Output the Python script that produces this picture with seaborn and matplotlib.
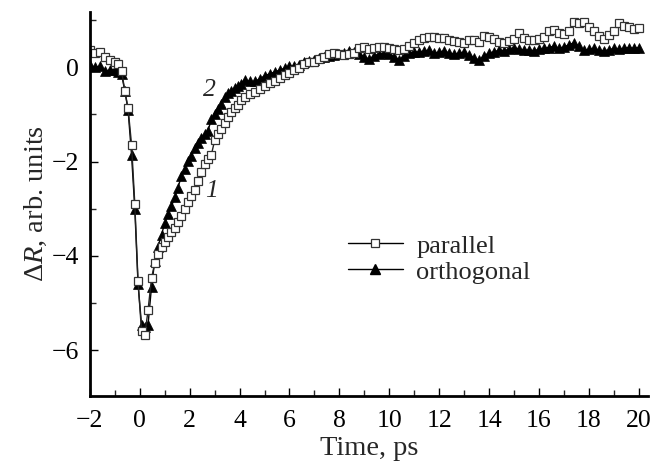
import matplotlib
matplotlib.use("Agg")
import matplotlib.pyplot as plt
import seaborn as sns
import pandas as pd
from matplotlib.ticker import MultipleLocator
from matplotlib.lines import Line2D

# ---- data ----
time_ps = [-2.0, -1.8, -1.6, -1.4, -1.2, -1.0, -0.87, -0.73, -0.6, -0.47,
           -0.33, -0.2, -0.07, 0.07, 0.2, 0.33, 0.47, 0.6, 0.73, 0.87,
           1.0, 1.13, 1.27, 1.4, 1.53, 1.67, 1.8, 1.93, 2.07, 2.2,
           2.33, 2.47, 2.6, 2.73, 2.87, 3.0, 3.13, 3.27, 3.4, 3.53,
           3.67, 3.8, 3.93, 4.07, 4.2, 4.4, 4.6, 4.8, 5.0, 5.2,
           5.4, 5.6, 5.8, 6.0, 6.2, 6.4, 6.6, 6.8, 7.0, 7.2,
           7.4, 7.6, 7.8, 8.0, 8.2, 8.4, 8.6, 8.8, 9.0, 9.2,
           9.4, 9.6, 9.8, 10.0, 10.2, 10.4, 10.6, 10.8, 11.0, 11.2,
           11.4, 11.6, 11.8, 12.0, 12.2, 12.4, 12.6, 12.8, 13.0, 13.2,
           13.4, 13.6, 13.8, 14.0, 14.2, 14.4, 14.6, 14.8, 15.0, 15.2,
           15.4, 15.6, 15.8, 16.0, 16.2, 16.4, 16.6, 16.8, 17.0, 17.2,
           17.4, 17.6, 17.8, 18.0, 18.2, 18.4, 18.6, 18.8, 19.0, 19.2,
           19.4, 19.6, 19.8, 20.0]

parallel = [0.36, 0.30, 0.32, 0.22, 0.16, 0.12, 0.06, -0.08, -0.50, -0.87,
            -1.64, -2.90, -4.54, -5.60, -5.68, -5.15, -4.47, -4.15, -3.95, -3.80,
            -3.70, -3.60, -3.50, -3.40, -3.28, -3.15, -3.00, -2.85, -2.72, -2.60,
            -2.40, -2.22, -2.05, -1.95, -1.85, -1.55, -1.42, -1.30, -1.17, -1.05,
            -0.95, -0.87, -0.80, -0.70, -0.63, -0.57, -0.52, -0.47, -0.40, -0.34,
            -0.29, -0.23, -0.17, -0.12, -0.06, -0.02, 0.08, 0.12, 0.12, 0.18,
            0.22, 0.28, 0.31, 0.29, 0.27, 0.28, 0.30, 0.40, 0.43, 0.38,
            0.40, 0.43, 0.44, 0.42, 0.38, 0.36, 0.38, 0.45, 0.52, 0.57,
            0.62, 0.65, 0.65, 0.63, 0.62, 0.58, 0.56, 0.53, 0.52, 0.57,
            0.58, 0.53, 0.66, 0.65, 0.60, 0.54, 0.52, 0.56, 0.60, 0.73,
            0.62, 0.58, 0.58, 0.60, 0.65, 0.76, 0.80, 0.73, 0.70, 0.78,
            0.96, 0.93, 0.97, 0.85, 0.78, 0.66, 0.60, 0.68, 0.78, 0.94,
            0.88, 0.86, 0.82, 0.84]

orthogonal = [0.05, 0.00, 0.02, -0.08, -0.06, -0.05, -0.10, -0.15, -0.50, -0.90,
              -1.86, -3.00, -4.60, -5.46, -5.50, -5.46, -4.65, -4.10, -3.80, -3.55,
              -3.30, -3.10, -2.95, -2.75, -2.55, -2.30, -2.15, -1.98, -1.88, -1.72,
              -1.60, -1.50, -1.42, -1.35, -1.10, -1.00, -0.88, -0.78, -0.62, -0.55,
              -0.50, -0.44, -0.40, -0.35, -0.26, -0.30, -0.30, -0.25, -0.18, -0.14,
              -0.10, -0.06, -0.02, 0.02, 0.03, 0.05, 0.12, 0.14, 0.16, 0.20,
              0.22, 0.25, 0.27, 0.28, 0.30, 0.34, 0.32, 0.28, 0.22, 0.17,
              0.25, 0.28, 0.30, 0.28, 0.22, 0.16, 0.24, 0.30, 0.33, 0.32,
              0.35, 0.36, 0.30, 0.32, 0.35, 0.30, 0.28, 0.30, 0.32, 0.26,
              0.20, 0.15, 0.25, 0.30, 0.33, 0.36, 0.35, 0.38, 0.42, 0.38,
              0.36, 0.37, 0.35, 0.38, 0.40, 0.42, 0.45, 0.40, 0.43, 0.48,
              0.52, 0.45, 0.36, 0.38, 0.40, 0.36, 0.35, 0.37, 0.40, 0.38,
              0.40, 0.42, 0.40, 0.42]

series_labels = ["parallel", "orthogonal"]
x_ticks = [-2, 0, 2, 4, 6, 8, 10, 12, 14, 16, 18, 20]
y_ticks = [0, -2, -4, -6]

df = pd.DataFrame({"time": time_ps, "parallel": parallel, "orthogonal": orthogonal})

# ---- style ----
sns.set_style("ticks")
plt.rcParams["font.family"] = ["Liberation Serif", "DejaVu Serif"]
plt.rcParams["mathtext.fontset"] = "custom"
plt.rcParams["mathtext.rm"] = "Liberation Serif"
plt.rcParams["mathtext.it"] = "Liberation Serif:italic"

fig = plt.figure(figsize=(6.61, 4.66), dpi=100)
ax = fig.add_axes([0.136, 0.150, 0.844, 0.825])

sns.lineplot(data=df, x="time", y="orthogonal", ax=ax, color="black",
             linewidth=1.0, marker="^", markersize=7, markerfacecolor="black",
             markeredgecolor="black", markeredgewidth=0.5,
             sort=False, estimator=None)
sns.lineplot(data=df, x="time", y="parallel", ax=ax, color="#222222",
             linewidth=1.0, marker="s", markersize=6, markerfacecolor="white",
             markeredgecolor="#333333", markeredgewidth=0.9,
             sort=False, estimator=None)

ax.set_xlim(-2.0, 20.36)
ax.set_ylim(-6.97, 1.18)
ax.set_xticks(x_ticks)
ax.set_xticklabels(["\u22122" if v == -2 else str(v) for v in x_ticks])
ax.set_yticks(y_ticks)
ax.set_yticklabels([("\u2212" + str(-v)) if v < 0 else str(v) for v in y_ticks])
ax.xaxis.set_minor_locator(MultipleLocator(1))
ax.yaxis.set_minor_locator(MultipleLocator(1))
ax.tick_params(axis="both", which="major", direction="in", length=5.5, width=1.0,
               labelsize=18.5, pad=8, colors="black")
ax.tick_params(axis="x", which="major", pad=10)
ax.tick_params(axis="both", which="minor", direction="in", length=4, width=1.0)

for s in ["top", "right"]:
    ax.spines[s].set_visible(False)
for s in ["left", "bottom"]:
    ax.spines[s].set_linewidth(2.0)
    ax.spines[s].set_color("black")

ax.set_xlabel("Time, ps", fontsize=20.5, labelpad=3)
ax.set_ylabel(r"$\Delta R$, arb. units", fontsize=20.5, labelpad=2)

ax.text(2.8, -0.48, "2", fontsize=18.5, style="italic", ha="center", va="center")
ax.text(2.87, -2.63, "1", fontsize=18.5, style="italic", ha="center", va="center")

handles = [
    Line2D([], [], color="black", linewidth=1.0, marker="s", markersize=6,
           markerfacecolor="white", markeredgecolor="#333333", markeredgewidth=0.9),
    Line2D([], [], color="black", linewidth=1.0, marker="^", markersize=7,
           markerfacecolor="black", markeredgecolor="black"),
]
leg = ax.legend(handles, series_labels, loc="center left",
                bbox_to_anchor=(0.462, 0.357), frameon=False, fontsize=19,
                handlelength=2.1, handletextpad=0.5, labelspacing=0.1,
                borderpad=0, borderaxespad=0)

fig.savefig("out.png", dpi=100)
